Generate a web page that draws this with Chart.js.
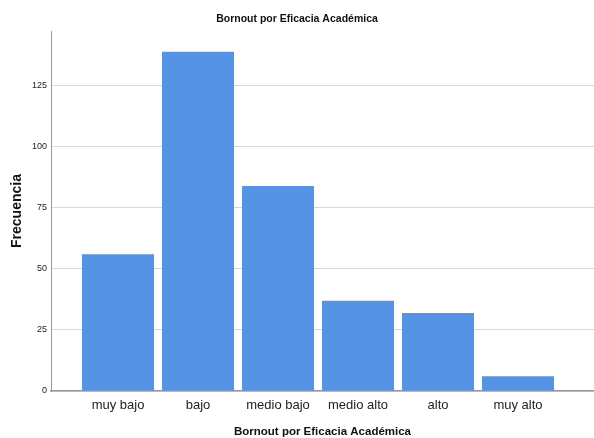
<!DOCTYPE html>
<html>
<head>
<meta charset="utf-8">
<script src="https://cdn.jsdelivr.net/npm/chart.js@4.4.0/dist/chart.umd.min.js"></script>
<style>
  html, body { margin: 0; padding: 0; background: #fff; }
  #wrap { width: 594px; height: 438px; }
</style>
</head>
<body>
<div id="wrap"><canvas id="c" width="594" height="438"></canvas></div>
<script>
const categories = ["muy bajo", "bajo", "medio bajo", "medio alto", "alto", "muy alto"];
const frecuencia = [56, 139, 84, 37, 32, 6];
const yTicks = [0, 25, 50, 75, 100, 125];
const titleText = "Bornout por Eficacia Académica";
const yTitle = "Frecuencia";

const SANS = "'Liberation Sans', Arial, sans-serif";

new Chart(document.getElementById('c'), {
  type: 'bar',
  data: {
    datasets: [{
      data: frecuencia.map((v, i) => ({ x: i, y: v })),
      backgroundColor: '#5593e4',
      borderWidth: 0,
      barPercentage: 0.9,
      categoryPercentage: 1.0
    }]
  },
  options: {
    responsive: false,
    animation: false,
    layout: { padding: 0 },
    plugins: {
      legend: { display: false },
      tooltip: { enabled: false },
      title: {
        display: true,
        text: titleText,
        color: '#111',
        font: { family: SANS, size: 10.5, weight: 'bold', lineHeight: 1.2 },
        padding: { top: 13, bottom: 5.4 }
      }
    },
    scales: {
      x: {
        type: 'linear',
        offset: false,
        min: -0.8375,
        max: 5.95,
        afterBuildTicks: (s) => { s.ticks = categories.map((c, i) => ({ value: i })); },
        afterFit: (s) => { s.height = 47; },
        ticks: {
          autoSkip: false,
          maxRotation: 0,
          padding: 7,
          color: '#222',
          font: { family: SANS, size: 13 },
          callback: (v) => categories[v]
        },
        grid: { display: false, drawTicks: false, offset: false },
        border: { display: true, color: '#9a9a9a', width: 1.5 },
        title: {
          display: true,
          text: titleText,
          color: '#111',
          font: { family: SANS, size: 11.5, weight: 'bold', lineHeight: 1.1 },
          padding: { top: 0, bottom: 0 }
        }
      },
      y: {
        min: 0,
        max: 147.5,
        afterBuildTicks: (s) => { s.ticks = yTicks.map(v => ({ value: v })); },
        afterFit: (s) => { s.width = 51; },
        ticks: {
          padding: 4,
          color: '#222',
          font: { family: SANS, size: 9 },
          includeBounds: false
        },
        grid: { color: '#d9d9d9', lineWidth: 1, drawTicks: false },
        border: { display: true, color: '#9a9a9a', width: 1 },
        title: {
          display: true,
          text: yTitle,
          color: '#111',
          font: { family: SANS, size: 14, weight: 'bold', lineHeight: 1.2 },
          padding: { top: 9, bottom: 0 }
        }
      }
    }
  }
});
</script>
</body>
</html>
